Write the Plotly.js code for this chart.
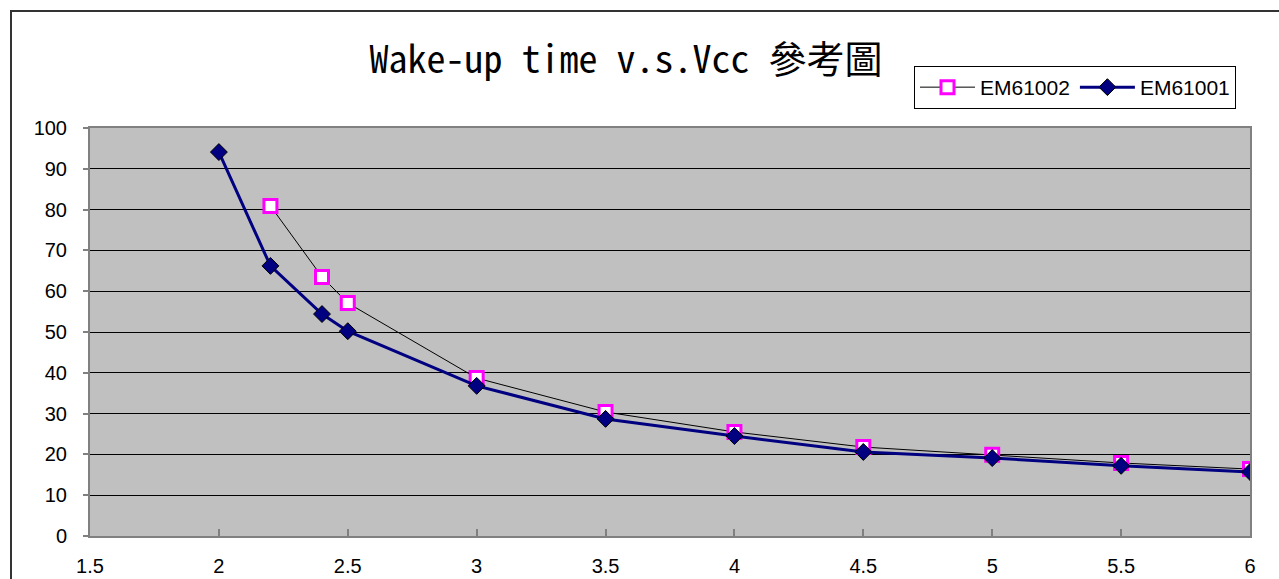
<!DOCTYPE html>
<html>
<head>
<meta charset="utf-8">
<script src="https://cdn.plot.ly/plotly-3.0.1.min.js"></script>
<style>
html,body{margin:0;padding:0;background:#fff;}
#wrap{position:relative;width:1279px;height:579px;overflow:hidden;}
#chart{position:absolute;left:0;top:0;width:1279px;height:579px;}
#frame{position:absolute;left:10px;top:10px;width:1300px;height:600px;border:2px solid #333;pointer-events:none;}
</style>
</head>
<body>
<div id="wrap"><div id="chart"></div><div id="frame"></div></div>
<script>
const vcc1002 = [2.2, 2.4, 2.5, 3, 3.5, 4, 4.5, 5, 5.5, 6];
const em61002 = [80.9, 63.5, 57.1, 38.7, 30.4, 25.5, 21.8, 19.9, 17.9, 16.4];
const vcc1001 = [2, 2.2, 2.4, 2.5, 3, 3.5, 4, 4.5, 5, 5.5, 6];
const em61001 = [94.1, 66.2, 54.4, 50.2, 36.8, 28.7, 24.5, 20.6, 19.1, 17.2, 15.7];
const xTicks = [1.5, 2, 2.5, 3, 3.5, 4, 4.5, 5, 5.5, 6];
const yTicks = [0, 10, 20, 30, 40, 50, 60, 70, 80, 90, 100];

const traces = [
  {
    x: vcc1002, y: em61002, name: 'EM61002', type: 'scatter', mode: 'lines+markers',
    line: {color: '#000000', width: 1},
    marker: {symbol: 'square', size: 13, color: '#FFFFFF', line: {color: '#FF00FF', width: 3}}
  },
  {
    x: vcc1001, y: em61001, name: 'EM61001', type: 'scatter', mode: 'lines+markers',
    line: {color: '#000080', width: 3},
    marker: {symbol: 'diamond', size: 13, color: '#000080', line: {color: '#000000', width: 1}}
  }
];

const tickFont = {family: 'Arial, Liberation Sans, sans-serif', size: 20, color: '#000'};

const layout = {
  width: 1279, height: 579, autosize: false,
  margin: {l: 90, r: 29, t: 128, b: 43, pad: 0},
  paper_bgcolor: '#FFFFFF', plot_bgcolor: '#C0C0C0',
  title: {
    text: 'Wake-up time v.s.Vcc 參考圖',
    font: {family: 'Noto Sans Mono CJK TC, Noto Sans CJK TC, Liberation Mono, monospace', size: 38, color: '#000'},
    x: 626/1279, xref: 'container', xanchor: 'center',
    y: 1 - 60/579, yref: 'container', yanchor: 'middle'
  },
  xaxis: {
    range: [1.5, 6], tickvals: xTicks, ticktext: xTicks.map(String),
    showgrid: false, zeroline: false,
    showline: true, linecolor: '#808080', linewidth: 2, mirror: true,
    ticks: 'inside', ticklen: 7, tickcolor: '#808080', tickwidth: 2,
    tickfont: tickFont, ticklabelstandoff: 11
  },
  yaxis: {
    range: [0, 100], tickvals: yTicks, ticktext: yTicks.map(String),
    showgrid: true, gridcolor: '#000000', gridwidth: 1, zeroline: false,
    showline: true, linecolor: '#808080', linewidth: 2, mirror: true,
    ticks: 'outside', ticklen: 5, tickcolor: '#808080', tickwidth: 2,
    tickfont: tickFont, ticklabelstandoff: 12
  },
  showlegend: true,
  legend: {
    orientation: 'h', x: (914-90)/1160, xanchor: 'left', y: (536-66)/408, yanchor: 'top',
    bgcolor: '#FFFFFF', bordercolor: '#000000', borderwidth: 1,
    font: {family: 'Arial, Liberation Sans, sans-serif', size: 21, color: '#000'},
    itemwidth: 55, tracegroupgap: 0
  }
};

Plotly.newPlot('chart', traces, layout, {displayModeBar: false, staticPlot: true});
</script>
</body>
</html>
